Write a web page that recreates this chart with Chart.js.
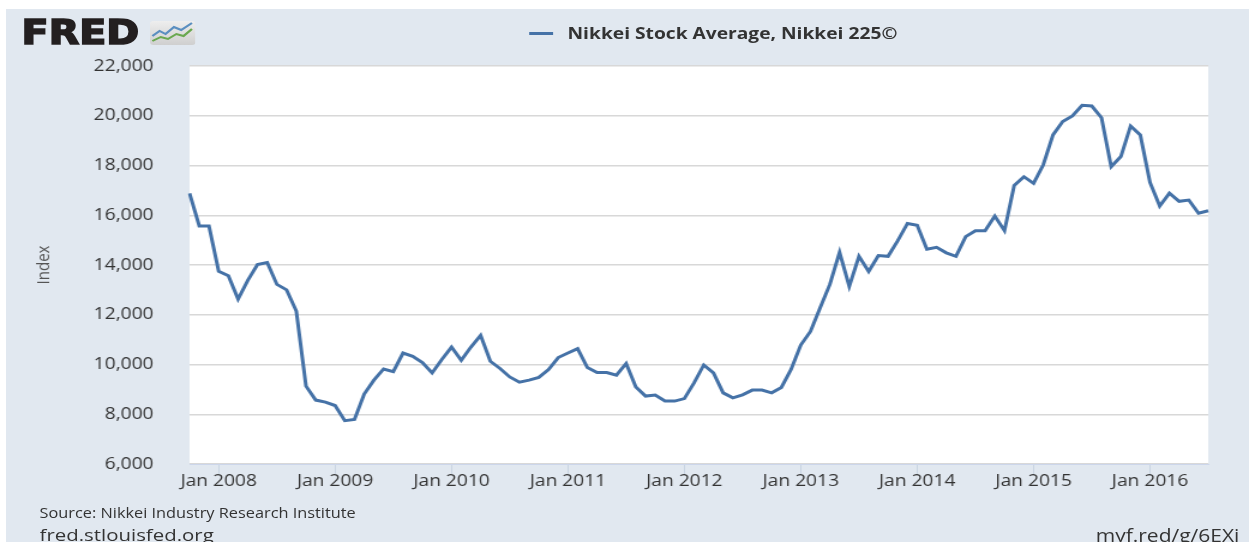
<!DOCTYPE html>
<html>
<head>
<meta charset="utf-8">
<title>Nikkei Stock Average, Nikkei 225</title>
<script src="https://cdn.jsdelivr.net/npm/chart.js@4.4.1/dist/chart.umd.min.js"></script>
<style>
  body { margin: 0; background: #fff; font-family: 'Open Sans', sans-serif; }
  /* the reference image is stretched sideways, so the whole page is drawn narrow and scaled */
  #wrap { position: absolute; left: 0; top: 0; width: 1041px; height: 542px;
          transform: scaleX(1.19981); transform-origin: 0 0; }
  #panel { position: absolute; left: 5px; top: 9px; right: 0; bottom: 0; background: #e1e8f0; }
  #box { position: absolute; left: 0; top: 0; width: 1041px; height: 542px; }
  #logo { position: absolute; left: 18px; top: 13px; font: bold 33px 'DejaVu Sans', sans-serif;
          color: #231f20; letter-spacing: 0; -webkit-text-stroke: 1.6px #231f20; line-height: 40px; }
  #logoIcon { position: absolute; left: 125px; top: 21px; }
  #legend { position: absolute; left: 441px; top: 22px; height: 22px; white-space: nowrap; }
  #legend .swatch { position: absolute; left: 0; top: 10px; width: 20px; height: 3px; background: #4572a7; }
  #legend .text { position: absolute; left: 32px; top: 0; font-size: 16px; font-weight: bold; color: #333; line-height: 22px; }
  .foot { position: absolute; color: #333; white-space: nowrap; }
</style>
</head>
<body>
<div id="wrap">
  <div id="panel"></div>
  <div id="box"><canvas id="chart"></canvas></div>
  <div id="logo">FRED</div>
  <svg id="logoIcon" width="38" height="24" viewBox="0 0 38 24">
    <defs>
      <linearGradient id="g" x1="0" y1="0" x2="0" y2="1">
        <stop offset="0" stop-color="#eeeeee"/>
        <stop offset="1" stop-color="#cfcfcf"/>
      </linearGradient>
    </defs>
    <rect x="0" y="0" width="38" height="24" rx="3" fill="url(#g)"/>
    <polyline points="2,15 8,10 13,13 20,6 26,9 35,2" fill="none" stroke="#5b8fc0" stroke-width="2"/>
    <polyline points="2,20 9,16 15,18 22,13 28,15 35,8" fill="none" stroke="#6aa84f" stroke-width="2"/>
  </svg>
  <div id="legend"><div class="swatch"></div><div class="text">Nikkei Stock Average, Nikkei 225©</div></div>
  <div class="foot" style="left:33px;top:503px;font-size:13.6px;">Source: Nikkei Industry Research Institute</div>
  <div class="foot" style="left:33px;top:523px;font-size:17px;">fred.stlouisfed.org</div>
  <div class="foot" style="right:8px;top:523px;font-size:17.5px;">myf.red/g/6EXi</div>
</div>

<script>
// first month of the series and month names for the category labels
var startYear = 2007;
var startMonth = 9; // October (0-based)
var monthNames = ["Jan", "Feb", "Mar", "Apr", "May", "Jun", "Jul", "Aug", "Sep", "Oct", "Nov", "Dec"];

// monthly Nikkei 225 index, Oct 2007 - Jul 2016
var nikkei = [
  16880, 15570, 15570,                                                          // 2007
  13750, 13570, 12630, 13380, 14020, 14100, 13220, 13000, 12150, 9130, 8570, 8490, // 2008
  8350, 7740, 7790, 8810, 9370, 9820, 9710, 10460, 10330, 10080, 9660, 10200,     // 2009
  10700, 10170, 10700, 11170, 10130, 9840, 9500, 9290, 9370, 9480, 9800, 10280,   // 2010
  10460, 10640, 9880, 9680, 9680, 9570, 10040, 9100, 8730, 8770, 8530, 8530,      // 2011
  8630, 9260, 9980, 9660, 8860, 8660, 8780, 8970, 8970, 8860, 9080, 9800,         // 2012
  10780, 11330, 12280, 13220, 14510, 13140, 14350, 13740, 14380, 14350, 14980, 15670, // 2013
  15600, 14630, 14710, 14490, 14350, 15140, 15380, 15380, 15970, 15380, 17200, 17550, // 2014
  17280, 18030, 19230, 19770, 19990, 20420, 20390, 19920, 17950, 18360, 19590, 19230, // 2015
  17320, 16370, 16890, 16560, 16610, 16080, 16180                                // 2016
];

var yTicks = { min: 6000, max: 22000, step: 2000 };

var months = [];
for (var i = 0; i < nikkei.length; i++) {
  var m = (startMonth + i) % 12;
  var y = startYear + Math.floor((startMonth + i) / 12);
  months.push(monthNames[m] + " " + y);
}

function isJan(index) {
  return months[index] && months[index].indexOf("Jan") === 0;
}

// white background behind the plot only
var plotBackground = {
  id: "plotBackground",
  beforeDraw: function(chart) {
    var a = chart.chartArea;
    var ctx = chart.ctx;
    ctx.save();
    ctx.fillStyle = "#ffffff";
    ctx.fillRect(a.left, a.top, a.right - a.left, a.bottom - a.top);
    ctx.restore();
  }
};

Chart.defaults.font.family = "'Open Sans', sans-serif";

var ctx = document.getElementById("chart");
new Chart(ctx, {
  type: "line",
  data: {
    labels: months,
    datasets: [{
      label: "Nikkei Stock Average, Nikkei 225©",
      data: nikkei,
      borderColor: "#4572a7",
      borderWidth: 3,
      pointRadius: 0,
      tension: 0,
      fill: false
    }]
  },
  options: {
    responsive: true,
    maintainAspectRatio: false,
    animation: false,
    layout: { padding: { left: 28, top: 66, right: 34, bottom: 0 } },
    plugins: {
      legend: { display: false },
      tooltip: { enabled: false }
    },
    scales: {
      x: {
        type: "category",
        offset: false,
        afterFit: function(scale) { scale.height = 78; },
        grid: {
          drawOnChartArea: false,
          drawTicks: true,
          tickLength: 10,
          tickColor: function(c) { return isJan(c.index) ? "#c8d4e2" : "rgba(0,0,0,0)"; }
        },
        border: { display: true, color: "#ccd6eb", width: 1 },
        ticks: {
          autoSkip: false,
          maxRotation: 0,
          minRotation: 0,
          padding: -2,
          color: "#333",
          font: { size: 16 },
          callback: function(v, index) { return isJan(index) ? months[index] : ""; }
        }
      },
      y: {
        min: yTicks.min,
        max: yTicks.max,
        afterFit: function(scale) { scale.width = 130; },
        grid: { color: "#d8d8d8", lineWidth: 1.5, drawTicks: false },
        border: { display: false },
        ticks: {
          stepSize: yTicks.step,
          padding: 30,
          color: "#333",
          font: { size: 16 }
        },
        title: {
          display: true,
          text: "Index",
          color: "#555",
          font: { size: 15 },
          padding: 0
        }
      }
    }
  },
  plugins: [plotBackground]
});
</script>
</body>
</html>
